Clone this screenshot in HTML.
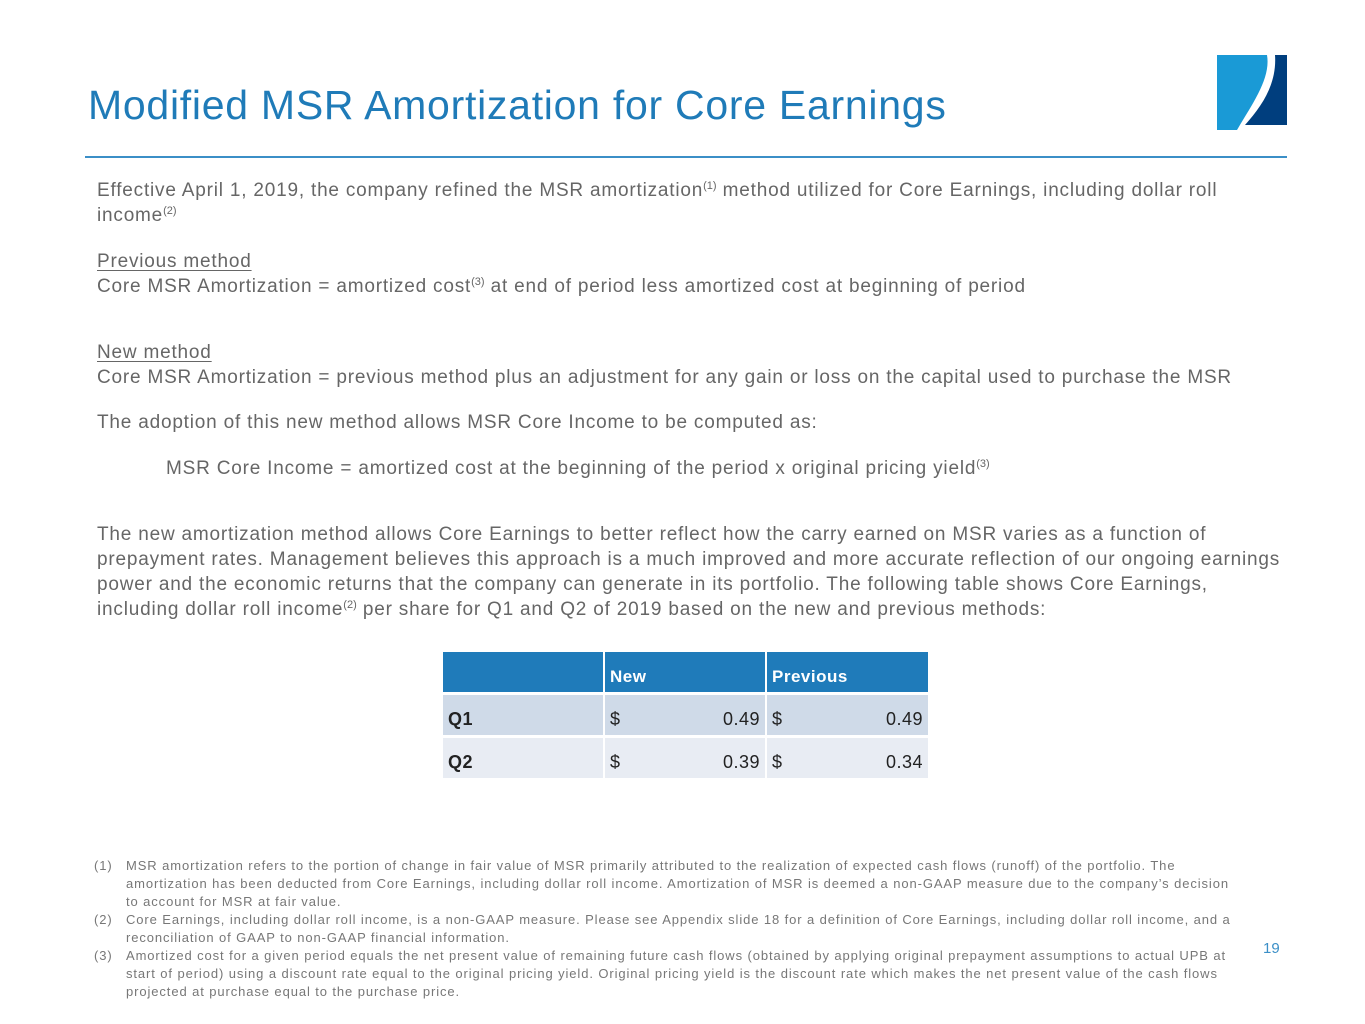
<!DOCTYPE html>
<html><head><meta charset="utf-8"><style>
body{margin:0;width:1365px;height:1024px;background:#fff;position:relative;overflow:hidden;font-family:"Liberation Sans",sans-serif;color:#666}
.a{position:absolute;white-space:nowrap}
.t{font-size:19px;line-height:25px;letter-spacing:0.8px}
sup{font-size:11px;vertical-align:7px;line-height:0;letter-spacing:0}
u{text-decoration:underline;text-underline-offset:3px}
.fn{font-size:13px;line-height:18px;color:#777;letter-spacing:0.9px}
.fn .n{position:absolute;left:0}
.fn .l{padding-left:32px}
table{position:absolute;left:441px;top:649px;border-collapse:separate;border-spacing:2px 3px;font-size:18px;letter-spacing:0.5px}
td{height:40px;padding:0 5px;vertical-align:bottom;padding-bottom:5px;box-sizing:border-box}
</style></head><body>
<div class="a" style="left:88px;top:82px;font-size:41px;color:#1f7bb8;letter-spacing:0.73px">Modified MSR Amortization for Core Earnings</div>
<svg class="a" style="left:1215px;top:53px" width="74" height="80" viewBox="0 0 74 80">
<path d="M2 2 H52 C56 25 38 50 22 77 L2 77 Z" fill="#1a9ad6"/>
<path d="M60 2 H72 V72 H30 C48 52 62 30 60 2 Z" fill="#003e7e"/>
</svg>
<div class="a" style="left:85px;top:156px;width:1202px;height:2px;background:#3b8fc7"></div>
<div class="a t" style="left:97px;top:178px">Effective April 1, 2019, the company refined the MSR amortization<sup>(1)</sup> method utilized for Core Earnings, including dollar roll<br>income<sup>(2)</sup></div>
<div class="a t" style="left:97px;top:249px"><u>Previous method</u><br>Core MSR Amortization = amortized cost<sup>(3)</sup> at end of period less amortized cost at beginning of period</div>
<div class="a t" style="left:97px;top:340px"><u>New method</u><br>Core MSR Amortization = previous method plus an adjustment for any gain or loss on the capital used to purchase the MSR</div>
<div class="a t" style="left:97px;top:410px">The adoption of this new method allows MSR Core Income to be computed as:</div>
<div class="a t" style="left:166px;top:456px">MSR Core Income = amortized cost at the beginning of the period x original pricing yield<sup>(3)</sup></div>
<div class="a t" style="left:97px;top:522px">The new amortization method allows Core Earnings to better reflect how the carry earned on MSR varies as a function of<br>prepayment rates. Management believes this approach is a much improved and more accurate reflection of our ongoing earnings<br>power and the economic returns that the company can generate in its portfolio. The following table shows Core Earnings,<br>including dollar roll income<sup>(2)</sup> per share for Q1 and Q2 of 2019 based on the new and previous methods:</div>
<table>
<tr style="background:#1f7bba;color:#fff;font-weight:bold;font-size:17px"><td style="width:160px"></td><td style="width:160px">New</td><td style="width:161px">Previous</td></tr>
<tr style="background:#cfdae8;color:#222"><td style="font-weight:bold">Q1</td><td>$<span style="float:right">0.49</span></td><td>$<span style="float:right">0.49</span></td></tr>
<tr style="background:#e8ecf3;color:#222"><td style="font-weight:bold">Q2</td><td>$<span style="float:right">0.39</span></td><td>$<span style="float:right">0.34</span></td></tr>
</table>
<div class="a fn" style="left:94px;top:857px">
<div class="l"><span class="n">(1)</span>MSR amortization refers to the portion of change in fair value of MSR primarily attributed to the realization of expected cash flows (runoff) of the portfolio. The</div>
<div class="l">amortization has been deducted from Core Earnings, including dollar roll income. Amortization of MSR is deemed a non-GAAP measure due to the company’s decision</div>
<div class="l">to account for MSR at fair value.</div>
<div class="l"><span class="n">(2)</span>Core Earnings, including dollar roll income, is a non-GAAP measure. Please see Appendix slide 18 for a definition of Core Earnings, including dollar roll income, and a</div>
<div class="l">reconciliation of GAAP to non-GAAP financial information.</div>
<div class="l"><span class="n">(3)</span>Amortized cost for a given period equals the net present value of remaining future cash flows (obtained by applying original prepayment assumptions to actual UPB at</div>
<div class="l">start of period) using a discount rate equal to the original pricing yield. Original pricing yield is the discount rate which makes the net present value of the cash flows</div>
<div class="l">projected at purchase equal to the purchase price.</div>
</div>
<div class="a" style="left:1263px;top:940px;font-size:15px;color:#3b8fc7">19</div>
</body></html>
